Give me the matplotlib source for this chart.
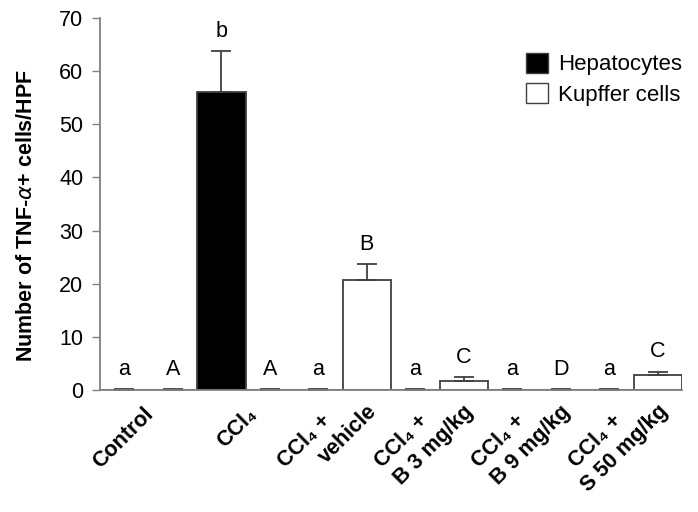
import matplotlib
matplotlib.use("Agg")
import matplotlib.pyplot as plt
from matplotlib.patches import Patch
import numpy as np

plt.rcParams['font.family'] = ['Liberation Sans', 'DejaVu Sans']

# two-line group labels: (first line, second line)
groups = [('Control', ''), ('CCl\u2084', ''), ('CCl\u2084 +', 'vehicle'),
          ('CCl\u2084 +', 'B 3 mg/kg'), ('CCl\u2084 +', 'B 9 mg/kg'),
          ('CCl\u2084 +', 'S 50 mg/kg')]
hep_vals = [0, 56.0, 0, 0, 0, 0]
hep_err = [0.3, 7.8, 0.3, 0.3, 0.3, 0.3]
hep_letters = ['a', 'b', 'a', 'a', 'a', 'a']
kup_vals = [0, 0, 20.8, 1.8, 0, 2.8]
kup_err = [0.3, 0.3, 2.9, 0.7, 0.3, 0.7]
kup_letters = ['A', 'A', 'B', 'C', 'D', 'C']

edge = '#404040'
spine = '#808080'

f = plt.figure(figsize=(6.98, 5.12), dpi=100)
ax = f.add_axes([0.1433, 0.238, 0.834, 0.727])

idx = np.arange(len(groups))
x_hep = idx * 2
x_kup = idx * 2 + 1

ax.bar(x_hep, hep_vals, width=1.0, color='black', edgecolor=edge, linewidth=1.3)
ax.bar(x_kup, kup_vals, width=1.0, color='white', edgecolor=edge, linewidth=1.3)
for xs, vals, errs in [(x_hep, hep_vals, hep_err), (x_kup, kup_vals, kup_err)]:
    ax.errorbar(xs, vals, yerr=[np.zeros(len(errs)), errs], fmt='none',
                ecolor=edge, elinewidth=1.3, capsize=7, capthick=1.3)

for xs, vals, errs, lets in [(x_hep, hep_vals, hep_err, hep_letters),
                             (x_kup, kup_vals, kup_err, kup_letters)]:
    for x, v, e, t in zip(xs, vals, errs, lets):
        ax.text(x, v + e + 1.7, t, ha='center', va='bottom', fontsize=15.5)

ax.set_xlim(-0.5, 11.5)
ax.set_ylim(0, 70)
ax.set_yticks(np.arange(0, 71, 10))
ax.tick_params(axis='y', labelsize=15.5, length=6, color=spine, width=1, pad=6)
ax.set_xticks([])

# rotated group labels, offsets in points from group centre on the axis
trans = ax.get_xaxis_transform()
for i, (g, (l1, l2)) in enumerate(zip(idx * 2 + 0.5, groups)):
    kw = dict(xycoords=trans, textcoords='offset points', ha='right', va='top',
              rotation=45, rotation_mode='anchor', fontsize=15.5, fontweight='bold')
    if l2:
        ax.annotate(l1, (g, 0), xytext=(-16, -15), **kw)
        ax.annotate(l2, (g, 0), xytext=(17, -8), **kw)
    else:
        ax.annotate(l1, (g, 0), xytext=(-4 if i == 0 else 1, -10), **kw)

for s in ['top', 'right']:
    ax.spines[s].set_visible(False)
for s in ['left', 'bottom']:
    ax.spines[s].set_color(spine)
    ax.spines[s].set_linewidth(1.3)

ax.set_ylabel('Number of TNF-$\\alpha$+ cells/HPF', fontsize=15.5, fontweight='bold')
ax.yaxis.set_label_coords(-0.108, 0.47)

handles = [Patch(facecolor='black', edgecolor=edge, label='Hepatocytes'),
           Patch(facecolor='white', edgecolor=edge, label='Kupffer cells')]
ax.legend(handles=handles, loc='upper right', bbox_to_anchor=(1.015, 0.93),
          borderaxespad=0, frameon=False, fontsize=16, handlelength=1.0,
          handleheight=1.0, handletextpad=0.45, labelspacing=0.35)

f.savefig('out.png', dpi=100)
